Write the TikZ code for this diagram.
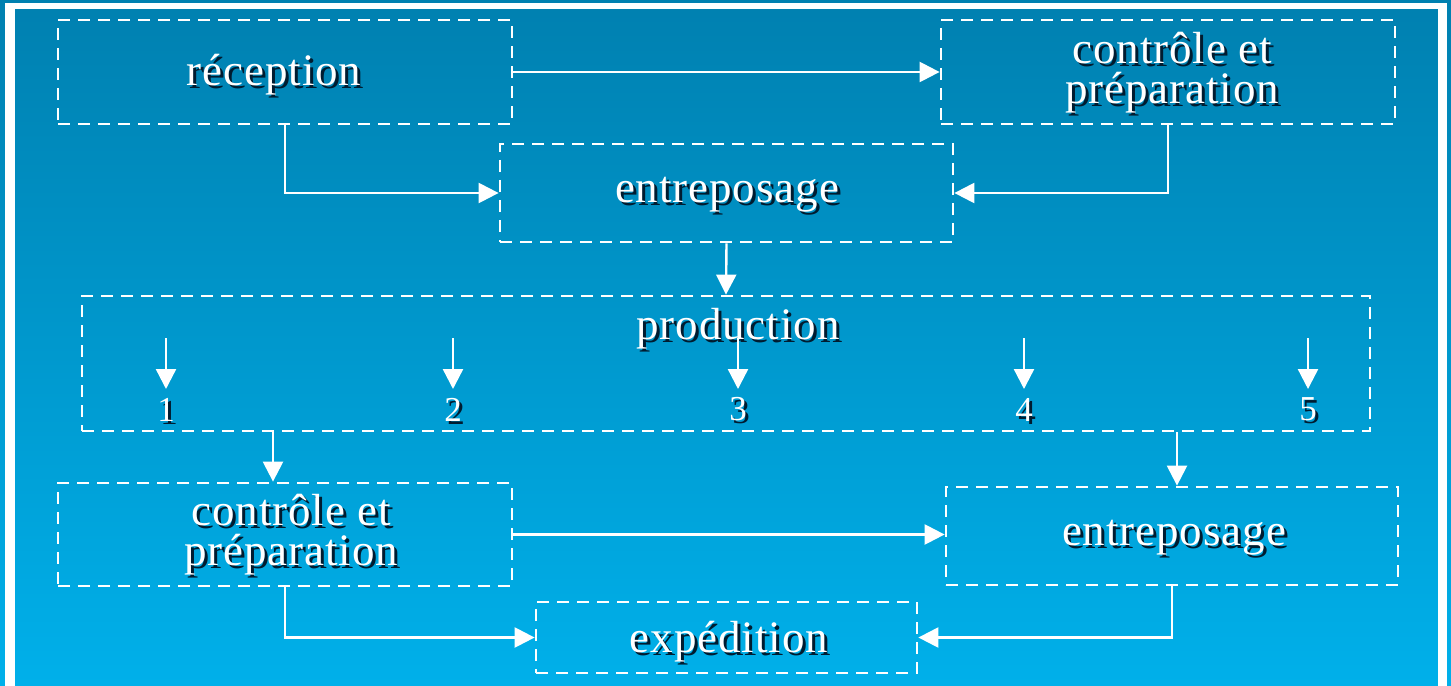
\documentclass[tikz,border=0pt]{standalone}
\usepackage{fontspec}
\setmainfont{Liberation Serif}[LetterSpace=2]
\usetikzlibrary{arrows.meta}
\definecolor{bgtop}{RGB}{0,128,176}
\definecolor{bgbot}{RGB}{0,176,234}
\definecolor{shade}{RGB}{0,28,48}
% white text with a dark drop shadow behind it
\newcommand\sh[1]{\leavevmode\rlap{\kern3bp\raisebox{-3bp}{\textcolor{shade}{#1}}}#1}
\tikzset{
  box/.style={draw=white, line width=2.8bp, dash pattern=on 12bp off 8bp,
    rectangle, inner sep=0pt},
  conn/.style={draw=white, line width=2.4bp,
    -{Triangle[length=20bp,width=20bp]}},
  txt/.style={text=white, align=center, inner sep=0pt,
    font=\fontsize{45bp}{40bp}\selectfont},
  numtxt/.style={txt, font=\fontsize{35bp}{40bp}\selectfont},
}
\begin{document}
\begin{tikzpicture}[x=1bp,y=-1bp]
  % background and frame
  \shade[top color=bgtop, bottom color=bgbot] (0,0) rectangle (1451,686);
  \useasboundingbox (0,0) rectangle (1451,686);
  \fill[white] (5,3) rectangle (1447,9);
  \fill[white] (5,3) rectangle (15,686);
  \fill[white] (1438,3) rectangle (1447,686);

  % boxes
  \node[box, minimum width=454bp, minimum height=104bp] (rec)  at (285,72) {};
  \node[box, minimum width=454bp, minimum height=104bp] (ctl1) at (1168,72) {};
  \node[box, minimum width=453bp, minimum height=98bp]  (ent1) at (726.5,193) {};
  \node[box, minimum width=1288bp, minimum height=135bp] (prod) at (726,363.5) {};
  \node[box, minimum width=454bp, minimum height=103bp] (ctl2) at (285,534.5) {};
  \node[box, minimum width=452bp, minimum height=98bp]  (ent2) at (1172,536) {};
  \node[box, minimum width=381bp, minimum height=71bp]  (exp)  at (726.5,637.5) {};

  % labels
  \node[txt] (lrec)  at (274,76)   {\sh{réception}};
  \node[txt] (lctl1) at (1172,74)  {\sh{contrôle et}\\\sh{préparation}};
  \node[txt] (lent1) at (727,196)  {\sh{entreposage}};
  \node[txt] (lprod) at (738,330)  {\sh{production}};
  \node[txt] (lctl2) at (291,536)  {\sh{contrôle et}\\\sh{préparation}};
  \node[txt] (lent2) at (1174,539) {\sh{entreposage}};
  \node[txt] (lexp)  at (729,643)  {\sh{expédition}};

  % production stages
  \foreach \i/\x in {1/166,2/453,3/738,4/1024,5/1308}{
    \node[numtxt] (n\i) at (\x,411) {\sh{\i}};
    \coordinate (a\i) at (\x,338);
    \coordinate (b\i) at (\x,389);
    \draw[conn] (a\i) -- (b\i);
  }

  % flow connectors
  \coordinate (t1) at (273,0);
  \coordinate (t2) at (1177,0);
  \draw[conn] (rec.east) -- (ctl1.west);
  \draw[conn] (rec.south) |- (ent1.west);
  \draw[conn] (ctl1.south) |- (ent1.east);
  \draw[conn] (ent1.south) -- (prod.north);
  \draw[conn] (prod.south -| t1) -- (ctl2.north -| t1);
  \draw[conn] (prod.south -| t2) -- (ent2.north -| t2);
  \draw[conn] (ctl2.east) -- (ctl2.east -| ent2.west);
  \draw[conn] (ctl2.south) |- (exp.west);
  \draw[conn] (ent2.south) |- (exp.east);
\end{tikzpicture}
\end{document}
